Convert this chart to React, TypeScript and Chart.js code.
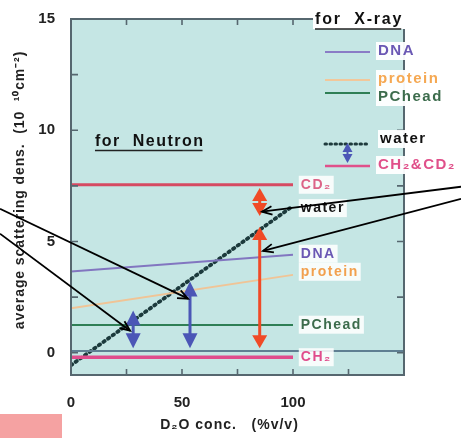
import React, { useEffect, useRef } from 'react';
import { Chart, registerables } from 'chart.js';
Chart.register(...registerables);

// ---- data ----
const lineX = [0, 100];
const dnaY = [3.65, 4.4];
const proteinY = [2.0, 3.5];
const pcheadY = [1.25, 1.25];
const waterY = [-0.56, 6.6];
const cd2Y = [7.55, 7.55];
const ch2Y = [-0.2, -0.2];
const zeroX = [0, 150];
const zeroY = [0.08, 0.08];

const xTickLabels = [0, 50, 100];
const yTickLabels = [0, 5, 10, 15];

const blueArrowX = [28, 53.6];
const blueArrowLow = [0.2, 0.2];
const blueArrowHigh = [1.9, 3.2];
const redArrowX = [85, 85];
const redArrowLow = [6.15, 0.2];
const redArrowHigh = [7.4, 5.65];

const calloutFromX = [-32, -32, 175.7, 175.7];
const calloutFromY = [6.47, 5.35, 7.46, 6.92];
const calloutToX = [52.7, 26.6, 86, 86.5];
const calloutToY = [2.43, 0.99, 6.34, 4.58];

const inlineLabels = ['CD₂', 'water', 'DNA', 'protein', 'PChead', 'CH₂'];
const inlineLabelY = [7.55, 6.5, 4.45, 3.64, 1.26, -0.2];
const inlineLabelX = [103.5, 103.5, 103.5, 103.5, 103.5, 103.5];
const inlineLabelColors = ['#dc6488', '#151515', '#6a58b4', '#f2a04e', '#3c6c4c', '#e04c8c'];

const neutronLabel = 'for  Neutron';
const neutronX = 10.8;
const neutronY = 9.5;

const legendTitle = 'for  X-ray';
const legendLabels = ['DNA', 'protein', 'PChead', 'water', 'CH₂&CD₂'];

const xTitle = 'D₂O conc.   (%v/v)';
const yTitle = 'average scattering dens.  (10  ¹⁰cm⁻²)';

const BG = '#c5e6e4';
const FRAME = '#56676f';
const FONT = '"Liberation Sans", Arial, sans-serif';

function toXY(xs: number[], ys: number[]) {
  return xs.map((x, i) => ({ x, y: ys[i] }));
}

function doubleArrow(ctx: CanvasRenderingContext2D, x: number, yTop: number, yBot: number, color: string, headLen: number, headW: number, lw: number) {
  ctx.save();
  ctx.strokeStyle = color;
  ctx.fillStyle = color;
  ctx.lineWidth = lw;
  if (yBot - yTop > 2 * headLen) {
    ctx.beginPath();
    ctx.moveTo(x, yTop + headLen - 1);
    ctx.lineTo(x, yBot - headLen + 1);
    ctx.stroke();
  }
  ctx.beginPath();
  ctx.moveTo(x, yTop);
  ctx.lineTo(x - headW / 2, yTop + headLen);
  ctx.lineTo(x + headW / 2, yTop + headLen);
  ctx.closePath();
  ctx.fill();
  ctx.beginPath();
  ctx.moveTo(x, yBot);
  ctx.lineTo(x - headW / 2, yBot - headLen);
  ctx.lineTo(x + headW / 2, yBot - headLen);
  ctx.closePath();
  ctx.fill();
  ctx.restore();
}

function labelBox(ctx: CanvasRenderingContext2D, text: string, x: number, y: number, color: string, font: string, spacing: string, boxAlpha = 0.9) {
  ctx.save();
  ctx.font = font;
  (ctx as any).letterSpacing = spacing;
  const w = ctx.measureText(text).width;
  ctx.fillStyle = `rgba(255,255,255,${boxAlpha})`;
  ctx.fillRect(x - 2, y - 9, w + 4, 18);
  ctx.fillStyle = color;
  ctx.textAlign = 'left';
  ctx.textBaseline = 'middle';
  ctx.fillText(text, x, y);
  ctx.restore();
  return w;
}

const decorPlugin = {
  id: 'decor',
  beforeDatasetsDraw(chart: any) {
    const { ctx, chartArea: a } = chart;
    ctx.save();
    ctx.fillStyle = BG;
    ctx.fillRect(a.left, a.top, a.right - a.left, a.bottom - a.top);
    ctx.restore();
  },
  afterDatasetsDraw(chart: any) {
    const { ctx, chartArea: a } = chart;
    const xs = chart.scales.x;
    const ys = chart.scales.y;

    // frame
    ctx.save();
    ctx.strokeStyle = FRAME;
    ctx.lineWidth = 2;
    ctx.strokeRect(a.left, a.top, a.right - a.left, a.bottom - a.top);
    ctx.lineWidth = 1.6;
    ctx.beginPath();
    for (let v = 0; v <= 150; v += 25) {
      const px = xs.getPixelForValue(v);
      ctx.moveTo(px, a.bottom);
      ctx.lineTo(px, a.bottom - 6);
      ctx.moveTo(px, a.top);
      ctx.lineTo(px, a.top + 6);
    }
    for (let v = 0; v <= 15; v += 2.5) {
      const py = ys.getPixelForValue(v);
      ctx.moveTo(a.left, py);
      ctx.lineTo(a.left + 7, py);
      ctx.moveTo(a.right, py);
      ctx.lineTo(a.right - 7, py);
    }
    ctx.stroke();
    ctx.restore();

    // axis titles
    ctx.save();
    ctx.fillStyle = '#222';
    ctx.font = `bold 14px ${FONT}`;
    (ctx as any).letterSpacing = '1px';
    ctx.textAlign = 'center';
    ctx.textBaseline = 'middle';
    ctx.fillText(xTitle, (a.left + a.right) / 2 - 8, a.bottom + 50);
    ctx.translate(20, (a.top + a.bottom) / 2 - 7);
    ctx.rotate(-Math.PI / 2);
    (ctx as any).letterSpacing = '0.9px';
    ctx.fillText(yTitle, 0, 0);
    ctx.restore();

    // blue arrows
    blueArrowX.forEach((x, i) => {
      doubleArrow(ctx, xs.getPixelForValue(x), ys.getPixelForValue(blueArrowHigh[i]), ys.getPixelForValue(blueArrowLow[i]), '#4b56b6', 15, 15, 3);
    });
    // red arrows
    redArrowX.forEach((x, i) => {
      doubleArrow(ctx, xs.getPixelForValue(x), ys.getPixelForValue(redArrowHigh[i]), ys.getPixelForValue(redArrowLow[i]), '#f04a26', 13, 15, 3);
    });

    // inline labels
    inlineLabels.forEach((t, i) => {
      labelBox(ctx, t, xs.getPixelForValue(inlineLabelX[i]), ys.getPixelForValue(inlineLabelY[i]), inlineLabelColors[i], `bold 14px ${FONT}`, '1.5px', 0.85);
    });

    // for Neutron
    ctx.save();
    ctx.font = `bold 16px ${FONT}`;
    (ctx as any).letterSpacing = '1.5px';
    const nx = xs.getPixelForValue(neutronX);
    const ny = ys.getPixelForValue(neutronY);
    const nw = ctx.measureText(neutronLabel).width;
    ctx.fillStyle = '#111';
    ctx.textBaseline = 'middle';
    ctx.fillText(neutronLabel, nx, ny);
    ctx.strokeStyle = '#222';
    ctx.lineWidth = 1.5;
    ctx.beginPath();
    ctx.moveTo(nx, ny + 9);
    ctx.lineTo(nx + nw - 2, ny + 9);
    ctx.stroke();
    ctx.restore();

    // legend
    const lx0 = a.right - 79;
    const lx1 = a.right - 34;
    const tx = a.right - 26;
    const t0 = a.top;
    ctx.save();
    ctx.font = `bold 16px ${FONT}`;
    (ctx as any).letterSpacing = '1.8px';
    const titleX = a.right - 89;
    const tw = ctx.measureText(legendTitle).width;
    ctx.fillStyle = '#fff';
    ctx.fillRect(titleX - 2, t0 - 10, tw + 4, 20);
    ctx.fillStyle = '#111';
    ctx.textBaseline = 'middle';
    ctx.fillText(legendTitle, titleX, t0 + 1);
    ctx.strokeStyle = '#222';
    ctx.lineWidth = 1.5;
    ctx.beginPath();
    ctx.moveTo(titleX, t0 + 10);
    ctx.lineTo(titleX + tw - 2, t0 + 10);
    ctx.stroke();
    ctx.restore();

    const sample = (y: number, color: string, lw: number, dash?: number[]) => {
      ctx.save();
      ctx.strokeStyle = color;
      ctx.lineWidth = lw;
      if (dash) { ctx.setLineDash(dash); ctx.lineCap = 'round'; }
      ctx.beginPath();
      ctx.moveTo(lx0, y);
      ctx.lineTo(lx1, y);
      ctx.stroke();
      ctx.restore();
    };
    const lf = `bold 15px ${FONT}`;
    sample(t0 + 33, '#8a7cc6', 2);
    labelBox(ctx, legendLabels[0], tx, t0 + 32, '#6a58b4', lf, '1.5px', 0.95);
    sample(t0 + 61, '#f2c79a', 2);
    labelBox(ctx, legendLabels[1], tx, t0 + 60, '#f5a852', lf, '1.5px', 0.95);
    sample(t0 + 74, '#2f7f55', 2);
    labelBox(ctx, legendLabels[2], tx, t0 + 78, '#3c6c4c', lf, '1.5px', 0.95);
    sample(t0 + 125, '#1e3a3c', 3, [1.5, 3.5]);
    labelBox(ctx, legendLabels[3], tx + 2, t0 + 120, '#111', lf, '1.5px', 0.95);
    sample(t0 + 147, '#e0508a', 2.5);
    labelBox(ctx, legendLabels[4], tx, t0 + 146, '#e0508a', lf, '1.5px', 0.95);
    doubleArrow(ctx, (lx0 + lx1) / 2, t0 + 124, t0 + 144, '#4b56b6', 9, 10, 2);

    // callouts
    ctx.save();
    ctx.strokeStyle = '#000';
    ctx.lineWidth = 1.8;
    calloutFromX.forEach((fx, i) => {
      const x0 = xs.getPixelForValue(fx);
      const y0 = ys.getPixelForValue(calloutFromY[i]);
      const x1 = xs.getPixelForValue(calloutToX[i]);
      const y1 = ys.getPixelForValue(calloutToY[i]);
      const ang = Math.atan2(y1 - y0, x1 - x0);
      ctx.beginPath();
      ctx.moveTo(x0, y0);
      ctx.lineTo(x1, y1);
      ctx.stroke();
      ctx.beginPath();
      ctx.moveTo(x1 - 11 * Math.cos(ang - 0.4), y1 - 11 * Math.sin(ang - 0.4));
      ctx.lineTo(x1, y1);
      ctx.lineTo(x1 - 11 * Math.cos(ang + 0.4), y1 - 11 * Math.sin(ang + 0.4));
      ctx.stroke();
    });
    ctx.restore();

    // pink corner block
    ctx.save();
    ctx.fillStyle = '#f5a2a2';
    ctx.fillRect(0, a.bottom + 39, a.left - 9, chart.height - a.bottom - 39);
    ctx.restore();
  },
};

export default function App() {
  const ref = useRef<HTMLCanvasElement>(null);
  useEffect(() => {
    const chart = new Chart(ref.current!, {
      type: 'scatter',
      data: {
        datasets: [
          { data: toXY(zeroX, zeroY), borderColor: '#5f7f92', borderWidth: 2, showLine: true, pointRadius: 0 },
          { data: toXY(lineX, cd2Y), borderColor: '#d64a62', borderWidth: 3, showLine: true, pointRadius: 0 },
          { data: toXY(lineX, ch2Y), borderColor: '#e04c8c', borderWidth: 3.5, showLine: true, pointRadius: 0 },
          { data: toXY(lineX, pcheadY), borderColor: '#2f7f55', borderWidth: 2, showLine: true, pointRadius: 0 },
          { data: toXY(lineX, proteinY), borderColor: '#f0c496', borderWidth: 2, showLine: true, pointRadius: 0 },
          { data: toXY(lineX, dnaY), borderColor: '#8276c0', borderWidth: 2, showLine: true, pointRadius: 0 },
          { data: toXY(lineX, waterY), borderColor: '#1c3a3c', borderWidth: 3.8, borderDash: [1.5, 4.2], borderCapStyle: 'round', showLine: true, pointRadius: 0 },
        ] as any,
      },
      plugins: [decorPlugin],
      options: {
        animation: false,
        responsive: false,
        devicePixelRatio: 1,
        layout: { padding: { top: 19, right: 57, left: 0, bottom: 0 } },
        plugins: { legend: { display: false }, tooltip: { enabled: false } },
        scales: {
          x: {
            type: 'linear',
            min: 0,
            max: 150,
            grid: { display: false },
            border: { display: false },
            afterFit: (s: any) => { s.height = 63; },
            ticks: {
              stepSize: 25,
              autoSkip: false,
              maxRotation: 0,
              padding: 11,
              color: '#222',
              font: { family: FONT, size: 15, weight: 'bold' },
              callback: (v: any) => (xTickLabels.includes(Number(v)) ? String(v) : ''),
            },
            title: { display: false },
          },
          y: {
            type: 'linear',
            min: -1,
            max: 15,
            grid: { display: false },
            border: { display: false },
            afterFit: (s: any) => { s.width = 71; },
            ticks: {
              stepSize: 2.5,
              autoSkip: false,
              padding: 8,
              color: '#222',
              font: { family: FONT, size: 15, weight: 'bold' },
              callback: (v: any) => (yTickLabels.includes(Number(v)) ? String(v) : ''),
            },
            title: { display: false },
          },
        },
      } as any,
    });
    return () => chart.destroy();
  }, []);
  return (
    <div style={{ position: 'absolute', left: 0, top: 0, width: 461, height: 438, background: '#fff' }}>
      <canvas ref={ref} width={461} height={438} style={{ display: 'block', width: 461, height: 438 }} />
    </div>
  );
}
